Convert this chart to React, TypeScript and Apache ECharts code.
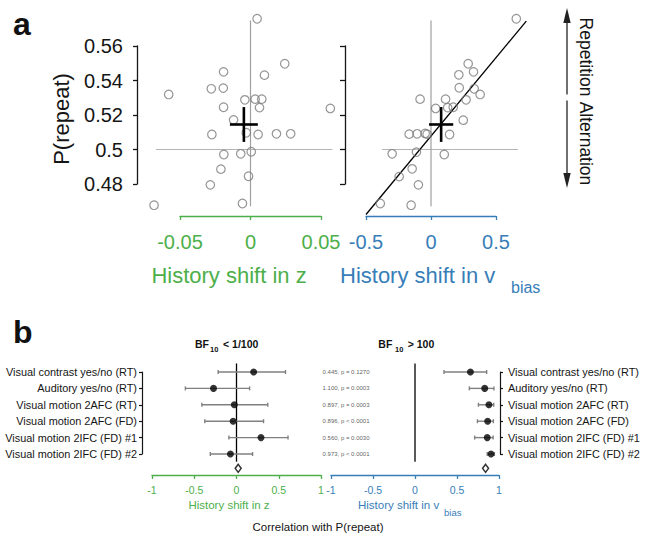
import React, { useEffect, useRef } from 'react';
import * as echarts from 'echarts';

const FONT = '"Liberation Sans", Arial, Helvetica, sans-serif';
const GREEN = '#4daf4a';
const BLUE = '#377eb8';
const PT_GRAY = '#7a7a7a';
const ERR_GRAY = '#808080';
const TXT = '#151515';

// ---------- Panel a data ----------
const shiftZ = [0.0047, 0.0243, 0.0099, -0.0191, -0.0278, -0.0193, -0.058, -0.004, 0.0033, 0.008, 0.0566, -0.0191, 0.0064, -0.012, -0.0274, -0.003, 0.0054, 0.0184, 0.0285, -0.0189, -0.0069, 0.0005, -0.021, -0.0014, -0.0285, -0.0684, -0.0057];
const pRepeatZ = [0.5758, 0.5497, 0.5431, 0.545, 0.5352, 0.5356, 0.5319, 0.5288, 0.5292, 0.5292, 0.5238, 0.5245, 0.5243, 0.5172, 0.5087, 0.5097, 0.5087, 0.5091, 0.5091, 0.4971, 0.4975, 0.4987, 0.4886, 0.4845, 0.4795, 0.4677, 0.4687];
const shiftV = [0.656, 0.286, 0.327, 0.214, 0.217, 0.332, 0.378, -0.084, 0.112, 0.27, 0.036, 0.128, 0.171, 0.248, -0.168, -0.107, -0.045, -0.03, 0.143, -0.299, -0.112, 0.102, -0.145, -0.245, -0.097, -0.39, -0.153];
const pRepeatV = [0.5758, 0.5497, 0.545, 0.5433, 0.5358, 0.5352, 0.5319, 0.5292, 0.5292, 0.5288, 0.5238, 0.5243, 0.5245, 0.517, 0.5089, 0.5091, 0.5093, 0.5089, 0.5087, 0.4975, 0.4985, 0.4971, 0.4888, 0.4843, 0.4795, 0.4687, 0.4677];

const pTicks = [0.48, 0.5, 0.52, 0.54, 0.56];
const zTicks = [-0.05, 0, 0.05];
const vTicks = [-0.5, 0, 0.5];

// group means with error (cross)
const meanZ = -0.0047, errZ = 0.0099;
const meanV = 0.078, errV = 0.093;
const meanP = 0.5145, errP = 0.0101;

// regression line (right panel), endpoints
const regV = [-0.5, 0.733];
const regP = [0.4623, 0.5744];

// reference lines extents
const refZ = [-0.067, 0.058];
const refV = [-0.377, 0.669];
const refP = [0.4671, 0.5748];

// ---------- Panel b data ----------
const datasets = ['Visual contrast yes/no (RT)', 'Auditory yes/no (RT)', 'Visual motion 2AFC (RT)', 'Visual motion 2AFC (FD)', 'Visual motion 2IFC (FD) #1', 'Visual motion 2IFC (FD) #2'];
const corrZ = [0.203, -0.272, -0.026, -0.04, 0.29, -0.072];
const corrZLo = [-0.217, -0.605, -0.41, -0.375, -0.09, -0.31];
const corrZHi = [0.58, 0.155, 0.37, 0.32, 0.61, 0.19];
const corrV = [0.66, 0.83, 0.88, 0.865, 0.86, 0.905];
const corrVLo = [0.345, 0.647, 0.755, 0.743, 0.71, 0.86];
const corrVHi = [0.853, 0.94, 0.937, 0.933, 0.93, 0.945];
const meanCorrZ = 0.02;
const meanCorrV = 0.84;
const summaryRow = 6.87;
const diffTexts = ['0.445, p = 0.1270', '1.100, p = 0.0003', '0.897, p = 0.0003', '0.896, p < 0.0001', '0.560, p = 0.0030', '0.973, p < 0.0001'];
const diffTextX = -1.1;
const corrTicks = [-1, -0.5, 0, 0.5, 1];
const zeroSpan = [0.48, 6.47];

const txt = (x: number, y: number, text: string, size: number, fill: string, align = 'center', vAlign = 'middle', rotation = 0, weight = 'normal') => ({
  type: 'text',
  x,
  y,
  rotation,
  silent: true,
  style: {
    text,
    x: 0,
    y: 0,
    fill,
    fontSize: size,
    fontFamily: FONT,
    fontWeight: weight,
    textAlign: align,
    textVerticalAlign: vAlign,
    align,
    verticalAlign: vAlign,
  },
});

const xAxisCfg = (gridIndex: number, ticks: number[], color: string, offset: number, fontSize: number, margin: number) => ({
  gridIndex,
  type: 'value',
  min: ticks[0],
  max: ticks[ticks.length - 1],
  interval: ticks[1] - ticks[0],
  position: 'bottom',
  offset,
  axisLine: { show: true, onZero: false, lineStyle: { color, width: 1.3 } },
  axisTick: { show: true, length: 4, lineStyle: { color, width: 1.3 } },
  axisLabel: { color, fontSize, fontFamily: FONT, margin, formatter: (v: number) => String(Math.round(v * 1000) / 1000) },
  splitLine: { show: false },
});

// segments: [x1, y1, x2, y2]
const segSeries = (xi: number, segs: number[][], color: string, width: number, z = 2) => ({
  type: 'custom',
  xAxisIndex: xi,
  yAxisIndex: xi,
  clip: false,
  silent: true,
  z,
  encode: { x: [0, 2], y: [1, 3] },
  data: segs,
  renderItem: (params: any, api: any) => {
    const a = api.coord([api.value(0), api.value(1)]);
    const b = api.coord([api.value(2), api.value(3)]);
    return {
      type: 'line',
      shape: { x1: a[0], y1: a[1], x2: b[0], y2: b[1] },
      style: { stroke: color, lineWidth: width, fill: null },
    };
  },
});

export default function App() {
  const ref = useRef<HTMLDivElement>(null);
  useEffect(() => {
    if (!ref.current) return;
    const chart = echarts.init(ref.current, undefined, { renderer: 'svg' });

    const errRender = (params: any, api: any) => {
      const lo = api.coord([api.value(0), api.value(2)]);
      const hi = api.coord([api.value(1), api.value(2)]);
      const cap = 2;
      const style = { stroke: ERR_GRAY, lineWidth: 1.4 };
      return {
        type: 'group',
        children: [
          { type: 'line', shape: { x1: lo[0], y1: lo[1], x2: hi[0], y2: hi[1] }, style },
          { type: 'line', shape: { x1: lo[0], y1: lo[1] - cap, x2: lo[0], y2: lo[1] + cap }, style },
          { type: 'line', shape: { x1: hi[0], y1: hi[1] - cap, x2: hi[0], y2: hi[1] + cap }, style },
        ],
      };
    };

    const forestY = (gridIndex: number, position: string, offset: number, margin: number) => ({
      gridIndex,
      type: 'value',
      min: 1,
      max: datasets.length,
      interval: 1,
      inverse: true,
      position,
      offset,
      axisLine: { show: true, onZero: false, lineStyle: { color: TXT, width: 1.2 } },
      axisTick: { show: true, length: 3, lineStyle: { color: TXT, width: 1.2 } },
      axisLabel: { color: TXT, fontSize: 10.9, fontFamily: FONT, margin, formatter: (v: number) => datasets[Math.round(v) - 1] || '' },
      splitLine: { show: false },
    });

    const scatterYCfg = (gridIndex: number, offset: number, showLabel: boolean, tickLen: number) => ({
      gridIndex,
      type: 'value',
      min: pTicks[0],
      max: pTicks[pTicks.length - 1],
      interval: 0.02,
      position: 'left',
      offset,
      axisLine: { show: true, onZero: false, lineStyle: { color: TXT, width: 1.3 } },
      axisTick: { show: true, length: tickLen, lineStyle: { color: TXT, width: 1.3 } },
      axisLabel: { show: showLabel, color: TXT, fontSize: 20, fontFamily: FONT, margin: 14, formatter: (v: number) => String(Math.round(v * 1000) / 1000) },
      splitLine: { show: false },
    });

    const circleStyle = { color: 'rgba(255,255,255,0)', borderColor: PT_GRAY, borderWidth: 1.2 };

    const option: any = {
      animation: false,
      backgroundColor: '#ffffff',
      grid: [
        { left: 180, top: 46, width: 141, height: 138 },
        { left: 366, top: 46, width: 130, height: 138 },
        { left: 152, top: 372, width: 169, height: 82 },
        { left: 331, top: 372, width: 168, height: 82 },
      ],
      xAxis: [
        xAxisCfg(0, zTicks, GREEN, 32, 20, 16),
        xAxisCfg(1, vTicks, BLUE, 32, 20, 16),
        xAxisCfg(2, corrTicks, GREEN, 21, 10.5, 9),
        xAxisCfg(3, corrTicks, BLUE, 21, 10.5, 9),
      ],
      yAxis: [
        scatterYCfg(0, 43, true, 4),
        scatterYCfg(1, 21, false, 5),
        forestY(2, 'left', 10, 5),
        forestY(3, 'right', 1, 8),
      ],
      series: [
        // left scatter
        segSeries(0, [[refZ[0], 0.5, refZ[1], 0.5]], '#b5b5b5', 1.2),
        segSeries(0, [[0, refP[0], 0, refP[1]]], '#a0a0a0', 1.2),
        {
          type: 'scatter', xAxisIndex: 0, yAxisIndex: 0, clip: false, symbol: 'circle', symbolSize: 8.5,
          itemStyle: circleStyle, data: shiftZ.map((x, i) => [x, pRepeatZ[i]]), z: 3,
        },
        segSeries(0, [[meanZ - errZ, meanP, meanZ + errZ, meanP], [meanZ, meanP - errP, meanZ, meanP + errP]], '#000', 2.6, 4),
        // right scatter
        segSeries(1, [[refV[0], 0.5, refV[1], 0.5]], '#b5b5b5', 1.2),
        segSeries(1, [[0, refP[0], 0, refP[1]]], '#a0a0a0', 1.2),
        segSeries(1, [[regV[0], regP[0], regV[1], regP[1]]], '#000', 1.3),
        {
          type: 'scatter', xAxisIndex: 1, yAxisIndex: 1, clip: false, symbol: 'circle', symbolSize: 8.5,
          itemStyle: circleStyle, data: shiftV.map((x, i) => [x, pRepeatV[i]]), z: 3,
        },
        segSeries(1, [[meanV - errV, meanP, meanV + errV, meanP], [meanV, meanP - errP, meanV, meanP + errP]], '#000', 2.6, 4),
        // left forest
        segSeries(2, [[0, zeroSpan[0], 0, zeroSpan[1]]], '#000', 1.3),
        {
          type: 'custom', xAxisIndex: 2, yAxisIndex: 2, renderItem: errRender, encode: { x: [0, 1], y: 2 },
          data: datasets.map((_, i) => [corrZLo[i], corrZHi[i], i + 1]), z: 3,
        },
        {
          type: 'scatter', xAxisIndex: 2, yAxisIndex: 2, symbol: 'circle', symbolSize: 7, clip: false,
          itemStyle: { color: '#000' }, data: corrZ.map((v, i) => [v, i + 1]), z: 4,
        },
        {
          type: 'scatter', xAxisIndex: 2, yAxisIndex: 2, symbol: 'diamond', symbolSize: [6, 8], clip: false,
          itemStyle: { color: '#fff', borderColor: '#000', borderWidth: 1.5 }, data: [[meanCorrZ, summaryRow]], z: 4,
        },
        // right forest
        segSeries(3, [[0, zeroSpan[0], 0, zeroSpan[1]]], '#000', 1.3),
        {
          type: 'custom', xAxisIndex: 3, yAxisIndex: 3, renderItem: errRender, encode: { x: [0, 1], y: 2 },
          data: datasets.map((_, i) => [corrVLo[i], corrVHi[i], i + 1]), z: 3,
        },
        {
          type: 'scatter', xAxisIndex: 3, yAxisIndex: 3, symbol: 'circle', symbolSize: 7, clip: false,
          itemStyle: { color: '#000' }, data: corrV.map((v, i) => [v, i + 1]), z: 4,
        },
        {
          type: 'scatter', xAxisIndex: 3, yAxisIndex: 3, symbol: 'diamond', symbolSize: [6, 8], clip: false,
          itemStyle: { color: '#fff', borderColor: '#000', borderWidth: 1.5 }, data: [[meanCorrV, summaryRow]], z: 4,
        },
        {
          type: 'scatter', xAxisIndex: 3, yAxisIndex: 3, symbolSize: 0, clip: false, silent: true,
          data: diffTexts.map((_, i) => [diffTextX, i + 1]),
          label: {
            show: true, position: 'right', distance: 0, fontSize: 6, fontFamily: FONT, color: '#333',
            formatter: (p: any) => diffTexts[p.dataIndex],
          },
        },
      ],
      graphic: [
        txt(13, 24, 'a', 32, '#111', 'left', 'middle', 0, 'bold'),
        txt(13, 332, 'b', 32, '#111', 'left', 'middle', 0, 'bold'),
        txt(61, 119, 'P(repeat)', 22, TXT, 'center', 'middle', Math.PI / 2),
        txt(229, 275.5, 'History shift in z', 22, GREEN, 'center'),
        txt(340, 275.5, 'History shift in v', 22, BLUE, 'left'),
        txt(511, 287.5, 'bias', 16, BLUE, 'left'),
        txt(586, 57, 'Repetition', 17.5, TXT, 'center', 'middle', -Math.PI / 2),
        txt(586, 143.5, 'Alternation', 17.5, TXT, 'center', 'middle', -Math.PI / 2),
        { type: 'line', silent: true, shape: { x1: 567, y1: 20, x2: 567, y2: 94.5 }, style: { stroke: '#222', lineWidth: 1.3 } },
        { type: 'line', silent: true, shape: { x1: 567, y1: 100.5, x2: 567, y2: 176 }, style: { stroke: '#222', lineWidth: 1.3 } },
        { type: 'polygon', silent: true, shape: { points: [[567, 8], [563.3, 23], [570.7, 23]] }, style: { fill: '#222' } },
        { type: 'polygon', silent: true, shape: { points: [[567, 188], [563.3, 173], [570.7, 173]] }, style: { fill: '#222' } },
        // BF titles
        txt(195, 343.7, 'BF', 10.5, '#111', 'left', 'middle', 0, 'bold'),
        txt(210, 349, '10', 7.5, '#111', 'left', 'middle', 0, 'bold'),
        txt(223, 343.7, '< 1/100', 10.5, '#111', 'left', 'middle', 0, 'bold'),
        txt(378.3, 343.7, 'BF', 10.5, '#111', 'left', 'middle', 0, 'bold'),
        txt(395, 349, '10', 7.5, '#111', 'left', 'middle', 0, 'bold'),
        txt(407.7, 343.7, '> 100', 10.5, '#111', 'left', 'middle', 0, 'bold'),
        // panel b axis titles
        txt(229, 505, 'History shift in z', 11.5, GREEN, 'center'),
        txt(358, 505, 'History shift in v', 11.5, BLUE, 'left'),
        txt(444, 512, 'bias', 9.5, BLUE, 'left'),
        txt(318, 527, 'Correlation with P(repeat)', 11.5, TXT, 'center'),
      ],
    };
    chart.setOption(option);
    return () => chart.dispose();
  }, []);
  return <div ref={ref} style={{ position: 'fixed', left: 0, top: 0, width: 646, height: 535 }} />;
}
